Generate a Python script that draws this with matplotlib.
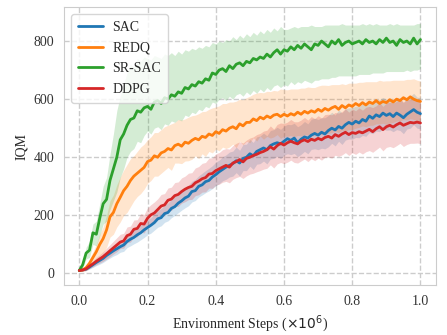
import matplotlib.pyplot as plt
import seaborn as sns
import numpy as np

# x axis: environment steps (x1e6), one point every 0.01
steps = np.linspace(0, 1, 101)

labels = ['SAC', 'REDQ', 'SR-SAC', 'DDPG']
colors = ['#1f77b4', '#ff7f0e', '#2ca02c', '#d62728']

sac = [10, 12, 15, 22, 30, 38, 45, 52, 62, 70,
       78, 85, 92, 98, 110, 118, 124, 133, 140, 150,
       158, 166, 175, 188, 192, 206, 210, 224, 230, 242,
       250, 260, 266, 282, 285, 300, 305, 316, 320, 332,
       340, 350, 358, 366, 372, 378, 388, 380, 396, 400,
       412, 405, 420, 426, 432, 426, 440, 446, 450, 446,
       455, 464, 458, 466, 450, 462, 470, 466, 476, 482,
       476, 486, 480, 492, 500, 494, 506, 500, 512, 520,
       514, 524, 518, 530, 524, 542, 534, 546, 540, 552,
       544, 550, 540, 552, 545, 536, 548, 556, 564, 555,
       550]
sac_up = [0, 3, 5, 8, 10, 12, 14, 16, 15, 18,
          20, 19, 22, 21, 24, 22, 26, 24, 27, 25,
          28, 26, 30, 28, 32, 29, 33, 31, 35, 32,
          36, 33, 38, 35, 39, 36, 40, 38, 42, 39,
          43, 40, 44, 42, 46, 43, 47, 44, 48, 45,
          49, 46, 50, 47, 51, 48, 52, 49, 53, 50,
          52, 49, 54, 51, 55, 50, 53, 49, 55, 52,
          54, 50, 56, 52, 55, 51, 57, 53, 55, 50,
          56, 52, 57, 53, 55, 50, 56, 52, 58, 54,
          55, 51, 57, 53, 56, 52, 58, 54, 56, 52,
          55]
sac_dn = [0, 3, 5, 7, 9, 11, 13, 14, 16, 17,
          18, 20, 19, 22, 21, 23, 22, 25, 24, 26,
          25, 27, 26, 29, 28, 30, 29, 32, 30, 33,
          32, 34, 33, 36, 34, 37, 35, 38, 36, 40,
          38, 41, 39, 42, 40, 43, 41, 45, 42, 46,
          43, 47, 44, 48, 45, 49, 46, 50, 47, 51,
          48, 52, 49, 53, 48, 52, 50, 54, 49, 53,
          50, 55, 51, 56, 52, 55, 51, 56, 53, 57,
          52, 56, 51, 55, 52, 57, 53, 56, 52, 55,
          51, 56, 52, 57, 53, 55, 51, 56, 52, 55,
          53]

redq = [10, 12, 20, 35, 55, 75, 100, 120, 150, 195,
        210, 240, 262, 285, 300, 320, 335, 345, 355, 365,
        385, 390, 405, 400, 415, 420, 430, 425, 440, 445,
        438, 452, 448, 458, 465, 460, 472, 468, 480, 475,
        488, 482, 495, 490, 500, 505, 498, 515, 508, 520,
        520, 532, 526, 538, 532, 542, 536, 545, 548, 540,
        548, 542, 550, 545, 555, 548, 558, 552, 560, 555,
        565, 558, 568, 562, 570, 575, 565, 578, 570, 580,
        575, 585, 578, 588, 580, 590, 585, 595, 585, 592,
        588, 598, 590, 600, 595, 605, 598, 608, 600, 595,
        592]
redq_up = [0, 5, 10, 15, 20, 25, 35, 40, 50, 55,
           60, 65, 70, 70, 75, 75, 70, 75, 80, 80,
           75, 80, 80, 85, 80, 85, 80, 90, 80, 85,
           90, 80, 90, 85, 80, 90, 85, 90, 85, 95,
           85, 95, 90, 95, 90, 85, 95, 85, 90, 85,
           90, 85, 95, 85, 90, 85, 90, 85, 80, 95,
           85, 90, 85, 90, 80, 90, 80, 90, 80, 85,
           80, 90, 80, 85, 80, 75, 85, 75, 80, 75,
           80, 70, 80, 70, 80, 70, 75, 65, 80, 70,
           75, 65, 75, 65, 70, 60, 70, 60, 70, 70,
           70]
redq_dn = [0, 5, 10, 15, 20, 30, 40, 50, 60, 70,
           75, 80, 85, 85, 90, 90, 85, 80, 80, 75,
           75, 70, 70, 65, 70, 65, 65, 70, 60, 65,
           60, 65, 60, 65, 60, 65, 60, 65, 60, 60,
           60, 60, 60, 60, 65, 60, 65, 60, 65, 65,
           70, 65, 70, 65, 70, 70, 70, 75, 70, 75,
           75, 70, 75, 75, 80, 75, 80, 75, 80, 80,
           85, 80, 85, 80, 85, 85, 80, 85, 80, 85,
           80, 85, 75, 80, 75, 80, 75, 80, 70, 75,
           75, 80, 70, 75, 70, 75, 70, 75, 70, 70,
           70]

sr_sac = [10, 30, 70, 80, 140, 135, 190, 240, 255, 320,
          360, 400, 460, 480, 510, 530, 535, 560, 555, 570,
          575, 565, 590, 595, 585, 605, 600, 615, 610, 625,
          620, 640, 635, 650, 645, 660, 655, 670, 665, 690,
          685, 700, 705, 695, 715, 705, 720, 725, 715, 730,
          725, 740, 735, 745, 740, 755, 745, 760, 770, 755,
          770, 765, 780, 770, 785, 775, 790, 780, 770, 790,
          785, 800, 790, 780, 800, 790, 805, 785, 795, 800,
          790, 795, 800, 790, 805, 795, 800, 790, 805, 795,
          810, 795, 800, 785, 805, 795, 800, 790, 810, 790,
          805]
sr_sac_up = [0, 10, 20, 30, 30, 45, 50, 60, 75, 90,
             120, 160, 150, 170, 180, 190, 175, 180, 175, 175,
             165, 170, 160, 150, 155, 150, 150, 145, 140, 140,
             135, 130, 130, 125, 125, 120, 120, 115, 115, 105,
             105, 100, 90, 110, 85, 110, 85, 95, 95, 95,
             90, 90, 85, 90, 85, 85, 85, 85, 65, 95,
             70, 75, 65, 80, 60, 75, 60, 70, 85, 60,
             65, 50, 65, 75, 55, 65, 50, 75, 60, 55,
             65, 60, 55, 70, 50, 65, 55, 70, 50, 60,
             45, 65, 55, 75, 50, 60, 55, 65, 45, 70,
             55]
sr_sac_dn = [0, 10, 20, 25, 40, 40, 60, 70, 75, 100,
             110, 120, 130, 120, 110, 110, 105, 105, 105, 95,
             85, 85, 90, 90, 90, 90, 90, 90, 90, 95,
             95, 95, 95, 95, 95, 95, 95, 95, 95, 100,
             100, 100, 100, 100, 105, 105, 105, 105, 105, 105,
             110, 110, 115, 110, 115, 115, 115, 115, 120, 115,
             120, 120, 120, 120, 125, 120, 125, 120, 115, 125,
             120, 130, 120, 110, 125, 115, 125, 105, 115, 120,
             110, 115, 115, 105, 120, 110, 110, 100, 115, 105,
             115, 100, 105, 90, 110, 100, 100, 95, 110, 90,
             100]

ddpg = [10, 12, 16, 25, 33, 42, 50, 58, 68, 78,
        88, 98, 108, 112, 130, 135, 152, 155, 172, 170,
        190, 202, 208, 220, 232, 236, 252, 256, 268, 272,
        282, 290, 296, 300, 312, 318, 326, 330, 342, 344,
        354, 360, 366, 372, 366, 380, 385, 392, 384, 396,
        400, 406, 410, 416, 420, 426, 436, 428, 440, 448,
        442, 450, 455, 450, 446, 455, 460, 454, 462, 458,
        465, 460, 468, 472, 466, 478, 472, 480, 486, 478,
        485, 482, 488, 484, 490, 496, 488, 498, 505, 495,
        505, 510, 504, 512, 518, 510, 515, 520, 518, 521,
        518]
ddpg_up = [0, 4, 6, 9, 11, 13, 15, 17, 19, 21,
           23, 25, 27, 26, 30, 28, 32, 30, 34, 33,
           36, 35, 38, 37, 40, 39, 42, 41, 45, 43,
           47, 45, 49, 47, 51, 50, 53, 52, 55, 54,
           58, 56, 60, 58, 62, 60, 63, 61, 65, 63,
           66, 64, 68, 66, 70, 67, 72, 69, 73, 70,
           74, 71, 75, 72, 76, 73, 77, 74, 78, 75,
           78, 75, 79, 76, 80, 76, 80, 77, 81, 77,
           81, 78, 82, 78, 82, 79, 83, 79, 83, 80,
           82, 79, 83, 80, 84, 80, 83, 79, 82, 80,
           81]
ddpg_dn = [0, 4, 6, 8, 10, 12, 14, 16, 18, 20,
           21, 23, 22, 25, 24, 27, 26, 29, 28, 31,
           30, 33, 32, 35, 34, 37, 36, 39, 38, 41,
           40, 43, 42, 45, 44, 47, 46, 49, 48, 51,
           50, 53, 52, 55, 54, 56, 55, 58, 57, 60,
           58, 61, 60, 62, 61, 64, 62, 65, 63, 66,
           64, 67, 65, 68, 66, 68, 66, 69, 67, 70,
           68, 70, 68, 71, 69, 71, 69, 72, 70, 72,
           70, 72, 70, 73, 71, 73, 71, 72, 70, 73,
           71, 73, 71, 72, 70, 73, 71, 72, 70, 72,
           71]


def draw_curve(ax, mean, up, dn, color, label):
    mean = np.array(mean)
    lower = mean - np.array(dn)
    upper = mean + np.array(up)
    ax.fill_between(steps, lower, upper, color=color, alpha=0.2, linewidth=0)
    ax.plot(steps, mean, color=color, linewidth=2.0, label=label)


def main():
    sns.set_style("whitegrid", {"grid.linestyle": "--", "axes.edgecolor": ".8"})
    plt.rcParams['font.family'] = ['serif']
    plt.rcParams['font.serif'] = ['Liberation Serif', 'DejaVu Serif']
    plt.rcParams['font.size'] = 10

    fig = plt.figure(figsize=(4.47, 3.35), dpi=100)
    ax = fig.add_subplot(111)
    fig.subplots_adjust(left=0.143, right=0.975, top=0.979, bottom=0.149)

    series = [(sac, sac_up, sac_dn),
              (redq, redq_up, redq_dn),
              (sr_sac, sr_sac_up, sr_sac_dn),
              (ddpg, ddpg_up, ddpg_dn)]
    for (mean, up, dn), color, label in zip(series, colors, labels):
        draw_curve(ax, mean, up, dn, color, label)

    ax.set_xlim(-0.045, 1.045)
    ax.set_ylim(-40, 917)
    ax.set_xticks([0.0, 0.2, 0.4, 0.6, 0.8, 1.0])
    ax.set_yticks([0, 200, 400, 600, 800])
    ax.grid(True, linestyle='--', color='#cccccc', linewidth=1.0)
    ax.set_xlabel(r'Environment Steps ($\times 10^6$)')
    ax.set_ylabel('IQM')
    ax.tick_params(colors='#333333', labelsize=10)
    ax.legend(loc='upper left', handlelength=1.8, handletextpad=0.7,
              labelspacing=0.55, borderpad=0.5,
              framealpha=0.8, edgecolor='#cccccc')

    fig.savefig('out.png', dpi=100)


if __name__ == "__main__":
    main()
